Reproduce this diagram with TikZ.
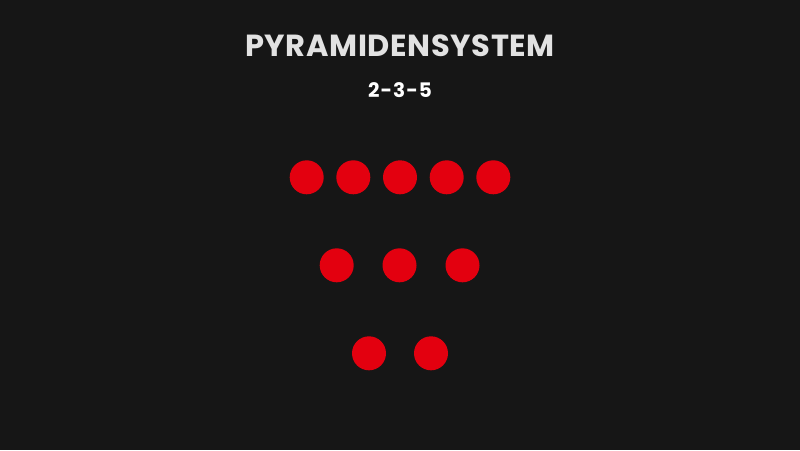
\documentclass[tikz,border=0pt]{standalone}
\usepackage{fontspec}
\setmainfont{Poppins}
\definecolor{bg}{HTML}{161616}
\definecolor{dotred}{HTML}{E3000F}
\definecolor{titlegray}{HTML}{E2E2E2}
\begin{document}
\begin{tikzpicture}[x=1pt,y=-1pt,
  dot/.style={circle,fill=dotred,minimum size=34pt,inner sep=0pt},
  title/.style={text=titlegray,font=\fontsize{30.5}{32}\selectfont\bfseries\addfontfeatures{LetterSpace=2},inner sep=0pt},
  subtitle/.style={text=white,font=\fontsize{20}{22}\selectfont\bfseries\addfontfeatures{LetterSpace=5},inner sep=0pt}]
\fill[bg] (0,0) rectangle (800,450);
\useasboundingbox (0,0) rectangle (800,450);
\node[title] (t) at (400,45.5) {PYRAMIDENSYSTEM};
\node[subtitle] (s) at (400,90) {2-3-5};
\foreach \x [count=\i] in {306.7,353.3,400,446.7,493.3}
  \node[dot] (a\i) at (\x,177.3) {};
\foreach \x [count=\i] in {336.7,399.5,462.5}
  \node[dot] (b\i) at (\x,265.3) {};
\foreach \x [count=\i] in {369,431}
  \node[dot] (c\i) at (\x,353.3) {};
\end{tikzpicture}
\end{document}
